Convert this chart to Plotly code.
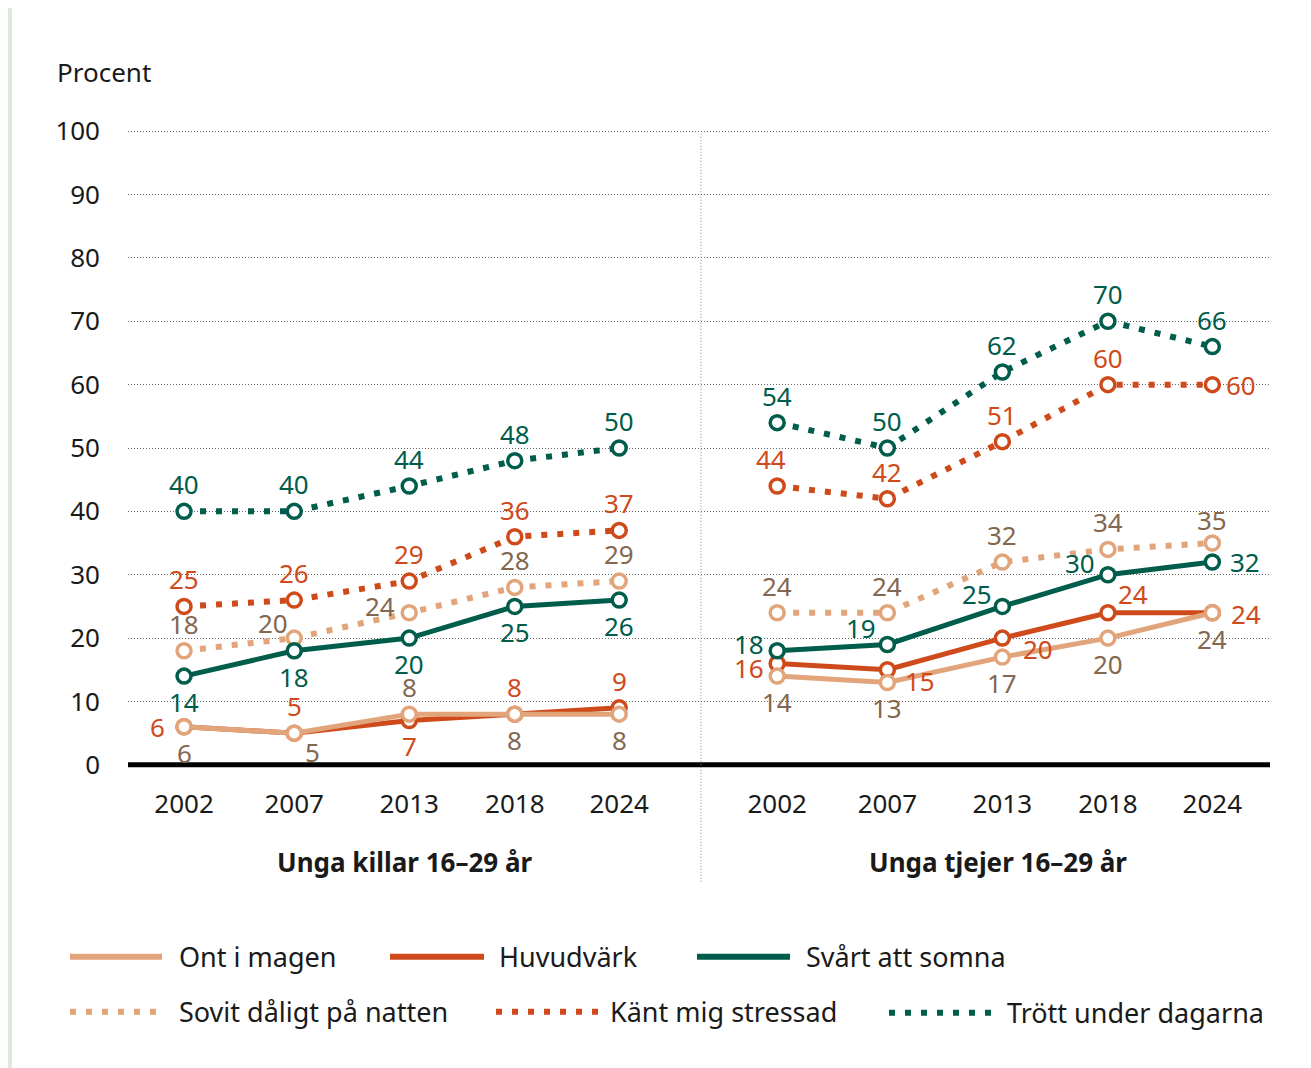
from __future__ import annotations

import plotly.graph_objects as go

# ---- data ---------------------------------------------------------------
years = ["2002", "2007", "2013", "2018", "2024"]
groups = ["Unga killar 16–29 år", "Unga tjejer 16–29 år"]

killar_ont = [6, 5, 8, 8, 8]
killar_huvud = [6, 5, 7, 8, 9]
killar_somna = [14, 18, 20, 25, 26]
killar_sovit = [18, 20, 24, 28, 29]
killar_stress = [25, 26, 29, 36, 37]
killar_trott = [40, 40, 44, 48, 50]

tjejer_ont = [14, 13, 17, 20, 24]
tjejer_huvud = [16, 15, 20, 24, 24]
tjejer_somna = [18, 19, 25, 30, 32]
tjejer_sovit = [24, 24, 32, 34, 35]
tjejer_stress = [44, 42, 51, 60, 60]
tjejer_trott = [54, 50, 62, 70, 66]

series_names = [
    "Ont i magen",
    "Huvudvärk",
    "Svårt att somna",
    "Sovit dåligt på natten",
    "Känt mig stressad",
    "Trött under dagarna",
]

# ---- styling ------------------------------------------------------------
FONT = "Noto Sans"
TEXT = "#1a1a1a"
TAN = "#e2a57b"
ORANGE = "#cf4a1b"
GREEN = "#005c4b"
BROWN = "#83674f"
DOTS = "6px,10px"

# name -> (line colour, label colour, dotted?)
STYLE = {
    "Ont i magen": (TAN, BROWN, False),
    "Huvudvärk": (ORANGE, ORANGE, False),
    "Svårt att somna": (GREEN, GREEN, False),
    "Sovit dåligt på natten": (TAN, BROWN, True),
    "Känt mig stressad": (ORANGE, ORANGE, True),
    "Trött under dagarna": (GREEN, GREEN, True),
}

# label offsets in px (dx right, dy down) relative to the marker
A = (0, -27)
B = (0, 26)
LABEL_OFFSETS = {
    (0, "Ont i magen"): [B, (18, 19), A, B, B],
    (0, "Huvudvärk"): [(-27, 0), A, B, A, A],
    (0, "Svårt att somna"): [B, B, B, B, B],
    (0, "Sovit dåligt på natten"): [A, (-21, -15), (-29, -7), A, A],
    (0, "Känt mig stressad"): [A, A, A, A, A],
    (0, "Trött under dagarna"): [A, A, A, A, A],
    (1, "Ont i magen"): [B, B, B, B, B],
    (1, "Huvudvärk"): [(-28, 5), (33, 11), (36, 11), (25, -19), (34, 1)],
    (1, "Svårt att somna"): [(-28, -7), (-26, -16), (-25, -12), (-28, -12), (33, 0)],
    (1, "Sovit dåligt på natten"): [A, A, A, A, (0, -23)],
    (1, "Känt mig stressad"): [(-6, -27), A, A, A, (29, 0)],
    (1, "Trött under dagarna"): [A, A, A, A, A],
}

# category slots inside a group (the original spacing is slightly uneven)
SLOTS = [0.0, 1.013, 2.07, 3.04, 4.0]
GROUP_OFFSET = 5.452  # gap between the two year groups on the x scale
DIVIDER_X = 4.752
X_RANGE = [-0.515, 9.982]
Y_PAD = 0.5

# pixel geometry, measured on the reference picture
OFF = 8  # the page body margin shifts the figure by this much
PLOT_L, PLOT_R = 128, 1270
Y0_PX, Y100_PX = 765, 131
UNIT = (Y0_PX - Y100_PX) / 100
PLOT_T = Y100_PX - Y_PAD * UNIT
PLOT_B = Y0_PX + Y_PAD * UNIT


def px(x: float) -> float:
    return (x - PLOT_L) / (PLOT_R - PLOT_L)


def py(y: float) -> float:
    return (PLOT_B - y) / (PLOT_B - PLOT_T)


def group_x(group: int) -> list[float]:
    return [s + group * GROUP_OFFSET for s in SLOTS]


def build_figure() -> go.Figure:
    data = {
        0: dict(zip(series_names, [killar_ont, killar_huvud, killar_somna,
                                   killar_sovit, killar_stress, killar_trott])),
        1: dict(zip(series_names, [tjejer_ont, tjejer_huvud, tjejer_somna,
                                   tjejer_sovit, tjejer_stress, tjejer_trott])),
    }
    draw_order = [
        "Sovit dåligt på natten",
        "Känt mig stressad",
        "Trött under dagarna",
        "Huvudvärk",
        "Ont i magen",
        "Svårt att somna",
    ]

    fig = go.Figure()
    annotations = []
    for g in (0, 1):
        xs = group_x(g)
        for name in draw_order:
            color, label_color, dotted = STYLE[name]
            values = data[g][name]
            fig.add_trace(
                go.Scatter(
                    x=xs,
                    y=values,
                    mode="lines+markers",
                    name=name,
                    showlegend=False,
                    cliponaxis=False,
                    line=dict(
                        color=color,
                        width=6 if dotted else 5,
                        dash=DOTS if dotted else "solid",
                    ),
                    marker=dict(
                        symbol="circle",
                        size=14,
                        color="white",
                        line=dict(color=color, width=3.5),
                    ),
                    hovertemplate="%{y}<extra>" + name + "</extra>",
                )
            )
            for x, v, (dx, dy) in zip(xs, values, LABEL_OFFSETS[(g, name)]):
                annotations.append(
                    dict(
                        x=x, y=v, text=str(v), showarrow=False,
                        xshift=dx, yshift=-dy,
                        font=dict(family=FONT, size=26, color=label_color),
                    )
                )

    # group titles
    for g, title in enumerate(groups):
        annotations.append(
            dict(
                x=group_x(g)[2] - 0.04, y=py(862), yref="paper",
                text=f"<b>{title}</b>", yanchor="middle",
                showarrow=False, font=dict(family=FONT, size=26, color=TEXT),
            )
        )

    annotations.append(
        dict(
            x=px(55), y=py(72), xref="paper", yref="paper", text="Procent",
            xanchor="left", yanchor="middle", showarrow=False,
            font=dict(family=FONT, size=26, color=TEXT),
        )
    )

    shapes = [
        # zero line
        dict(type="line", xref="paper", yref="y", x0=0, x1=1, y0=0, y1=0,
             line=dict(color="black", width=5)),
        # divider between groups
        dict(type="line", xref="x", yref="paper", x0=DIVIDER_X, x1=DIVIDER_X,
             y0=py(882), y1=py(Y100_PX),
             line=dict(color="#888888", width=1, dash="1px,2px")),
        # green page frame at the left edge
        dict(type="rect", xref="paper", yref="paper", x0=px(OFF), x1=px(12),
             y0=py(1068), y1=py(OFF), fillcolor="#dde7db", line=dict(width=0),
             layer="below"),
    ]

    # hand-made legend (long line samples as in the original)
    legend_items = [
        ("Ont i magen", 70, 162, 177, 957),
        ("Huvudvärk", 390, 484, 497, 957),
        ("Svårt att somna", 697, 790, 804, 957),
        ("Sovit dåligt på natten", 70, 164, 177, 1012),
        ("Känt mig stressad", 496, 598, 608, 1012),
        ("Trött under dagarna", 889, 992, 1005, 1013),
    ]
    for name, x0, x1, tx, y in legend_items:
        color, _, dotted = STYLE[name]
        shapes.append(
            dict(type="line", xref="paper", yref="paper",
                 x0=px(x0), x1=px(x1), y0=py(y), y1=py(y),
                 line=dict(color=color, width=6,
                           dash=DOTS if dotted else "solid"))
        )
        annotations.append(
            dict(x=px(tx), y=py(y), xref="paper", yref="paper", text=name,
                 xanchor="left", yanchor="middle", showarrow=False,
                 font=dict(family=FONT, size=27, color=TEXT))
        )

    tickvals = group_x(0) + group_x(1)
    fig.update_layout(
        width=1311 - OFF,
        height=1068 - OFF,
        margin=dict(l=PLOT_L - OFF, r=1311 - PLOT_R,
                    t=PLOT_T - OFF, b=1068 - PLOT_B),
        paper_bgcolor="white",
        plot_bgcolor="white",
        font=dict(family=FONT, size=26, color=TEXT),
        annotations=annotations,
        shapes=shapes,
        showlegend=False,
    )
    fig.update_xaxes(
        range=X_RANGE,
        tickvals=tickvals,
        ticktext=years + years,
        showgrid=False,
        zeroline=False,
        showline=False,
        ticks="",
        ticklabelstandoff=18,
        tickfont=dict(family=FONT, size=26, color=TEXT),
        fixedrange=True,
    )
    fig.update_yaxes(
        range=[-Y_PAD, 100 + Y_PAD],
        tickvals=list(range(0, 101, 10)),
        showgrid=True,
        gridcolor="#666666",
        gridwidth=1,
        griddash="1px,2px",
        zeroline=False,
        showline=False,
        ticks="",
        ticklabelstandoff=27,
        tickfont=dict(family=FONT, size=26, color=TEXT),
        fixedrange=True,
    )
    return fig


fig = build_figure()
fig.write_html("out.html")
